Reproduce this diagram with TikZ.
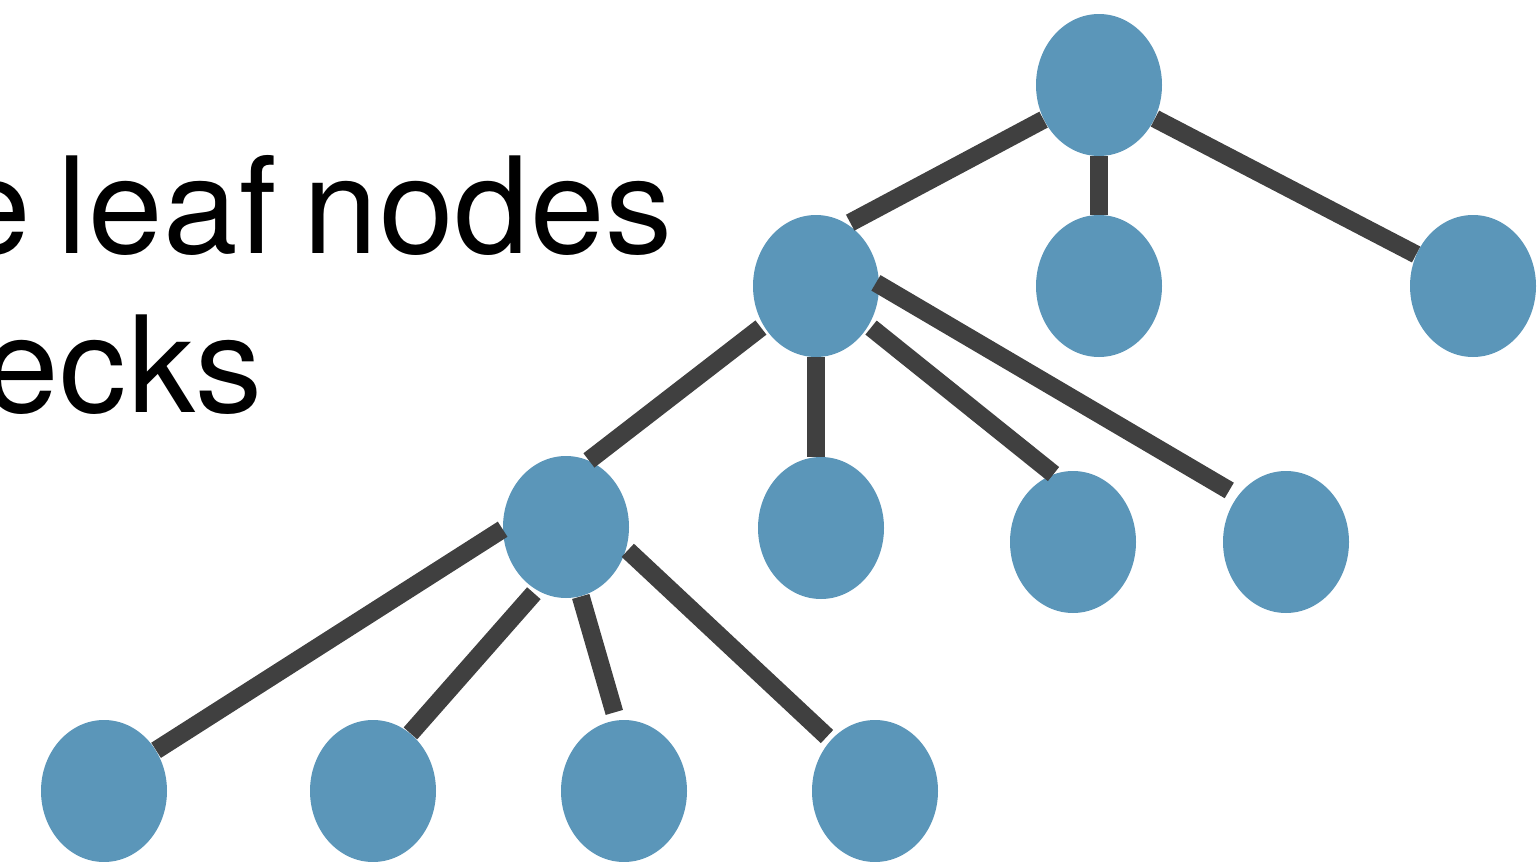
\documentclass[tikz,border=0pt]{standalone}
\usepackage{fontspec}
\setmainfont{TeX Gyre Heros}[WordSpace=0.7, LetterSpace=0.8]
\usetikzlibrary{shapes.geometric}
\definecolor{nodeblue}{RGB}{91,150,185}
\definecolor{edgegray}{RGB}{64,64,64}
\tikzset{
  tnode/.style={ellipse, fill=nodeblue, inner sep=0pt,
    minimum width=63pt, minimum height=71pt},
  tedge/.style={draw=edgegray, line width=9pt},
  bigtext/.style={anchor=base east, font=\fontsize{67pt}{80pt}\selectfont}
}
\begin{document}
\begin{tikzpicture}[x=0.5pt, y=-0.5pt]
  \useasboundingbox (0,0) rectangle (1538,862);
  \clip (0,0) rectangle (1538,862);
  \node[bigtext] (line1) at (680,253) {the leaf nodes};
  \node[bigtext] (line2) at (270,412) {checks};
  % top of the tree
  \node[tnode] (root) at (1099,85) {};
  \node[tnode] (a) at (816,286) {};
  \node[tnode] (b) at (1099,286) {};
  \node[tnode] (c) at (1473,286) {};
  % middle row
  \node[tnode] (d) at (566,527) {};
  \node[tnode] (e) at (821,528) {};
  \node[tnode] (f) at (1073,542) {};
  \node[tnode] (g) at (1286,542) {};
  % bottom row
  \node[tnode] (h) at (104,791) {};
  \node[tnode] (i) at (373,791) {};
  \node[tnode] (j) at (624,791) {};
  \node[tnode] (k) at (875,791) {};
  % edges
  \draw[tedge, shorten >=1.5pt] (root.212) -- (a.63);
  \draw[tedge] (root.south) -- (b.north);
  \draw[tedge] (root.-31) -- (c.151);
  \draw[tedge, shorten <=1.5pt] (a.217) -- (d.71);
  \draw[tedge] (a.south) -- (a.south |- e.north);
  \draw[tedge, shorten <=1.5pt] (a.-37) -- (f.106);
  \draw[tedge, shorten <=-2pt, shorten >=5pt] (a.1) -- (g.136);
  \draw[tedge] (d.182) -- (h.38);
  \draw[tedge, shorten <=2pt] (d.245) -- (i.57);
  \draw[tedge, shorten >=4pt] (d.282) -- (j.96);
  \draw[tedge, shorten <=1pt, shorten >=2.5pt] (d.-20) -- (k.131);
\end{tikzpicture}
\end{document}
